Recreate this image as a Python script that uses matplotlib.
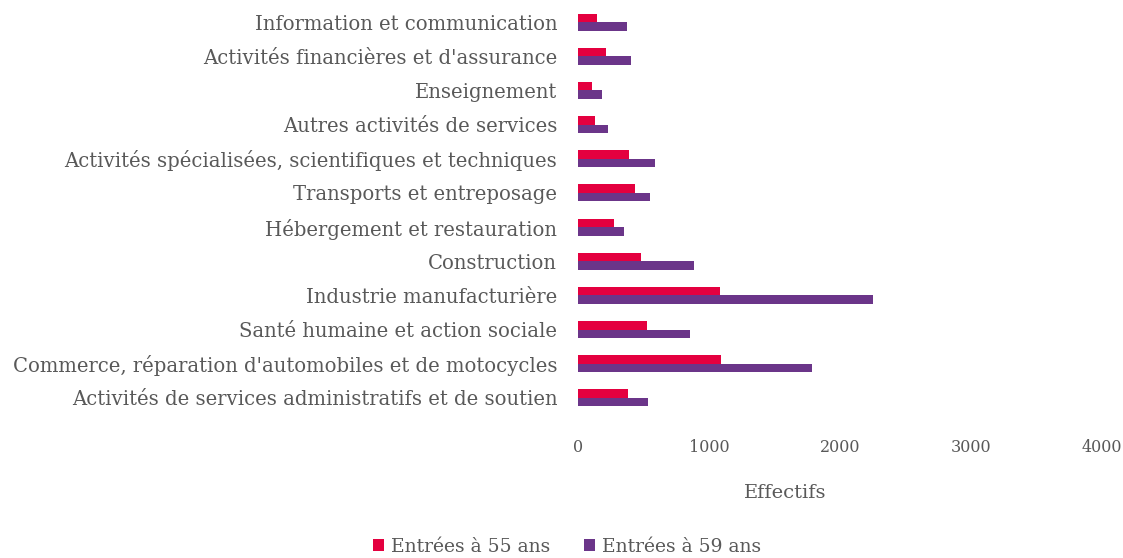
import matplotlib
matplotlib.use("Agg")
import matplotlib.pyplot as plt
import numpy as np

# categories from top to bottom
categories = [
    "Information et communication",
    "Activités financières et d'assurance",
    "Enseignement",
    "Autres activités de services",
    "Activités spécialisées, scientifiques et techniques",
    "Transports et entreposage",
    "Hébergement et restauration",
    "Construction",
    "Industrie manufacturière",
    "Santé humaine et action sociale",
    "Commerce, réparation d'automobiles et de motocycles",
    "Activités de services administratifs et de soutien",
]
entrees_55 = [148, 211, 107, 131, 386, 437, 272, 478, 1086, 527, 1094, 379]
entrees_59 = [371, 402, 180, 229, 585, 550, 353, 888, 2254, 855, 1786, 534]
series_labels = ["Entrées à 55 ans", "Entrées à 59 ans"]
x_ticks = [0, 1000, 2000, 3000, 4000]

RED = "#E4003F"
PURPLE = "#6B3589"
TEXT = "#595959"

plt.rcParams["font.family"] = ["DejaVu Serif"]

fig = plt.figure(figsize=(11.23, 5.58), dpi=100)
ax = fig.add_axes([578 / 1123, 1 - 415 / 558, (1102 - 578) / 1123, (415 - 5) / 558])

y = np.arange(len(categories))
h = 0.25
ax.barh(y - h / 2, entrees_55, height=h, color=RED, label=series_labels[0])
ax.barh(y + h / 2, entrees_59, height=h, color=PURPLE, label=series_labels[1])

ax.set_ylim(len(categories) - 0.5, -0.5)
ax.set_xlim(0, 4000)
ax.set_yticks(y)
ax.set_yticklabels(categories, fontsize=14.1, color=TEXT)
ax.set_xticks(x_ticks)
ax.set_xticklabels([str(t) for t in x_ticks], fontsize=11.5, color=TEXT)
ax.tick_params(axis="y", length=0, pad=15)
ax.tick_params(axis="x", length=0, pad=17)
for s in ax.spines.values():
    s.set_visible(False)

ax.set_xlabel("Effectifs", fontsize=14, color=TEXT)
ax.xaxis.set_label_coords((785 - 578) / 524, -(493 - 415) / 410, transform=ax.transAxes)
ax.xaxis.label.set_verticalalignment("center")

leg = fig.legend(
    loc="center",
    bbox_to_anchor=(567 / 1123, 1 - 547 / 558),
    ncol=2,
    frameon=False,
    fontsize=13.5,
    handlelength=0.6,
    handleheight=0.6,
    handletextpad=0.35,
    columnspacing=1.8,
)
for t in leg.get_texts():
    t.set_color(TEXT)

fig.savefig("out.png", dpi=100)
